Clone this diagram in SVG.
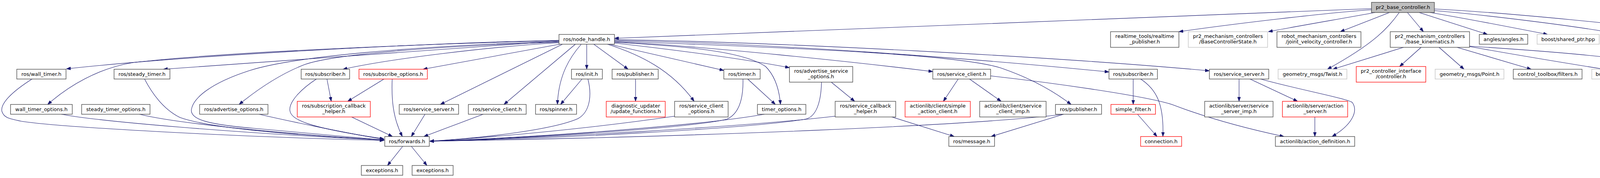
<svg xmlns="http://www.w3.org/2000/svg" width="4510" height="455" viewBox="0 0 4510 455">
<style>
.n rect{fill:#fff;stroke:#404040;stroke-width:1.3}
.r rect{fill:#fff;stroke:#ff0000;stroke-width:1.3}
.g rect{fill:#fff;stroke:#bfbfbf;stroke-width:1.3}
.t rect{fill:#bfbfbf;stroke:#404040;stroke-width:1.3}
text{font-family:"DejaVu Sans","Liberation Sans",sans-serif;font-size:13px;text-anchor:middle;fill:#000}
.e path{fill:none;stroke:#191970;stroke-width:1.1;marker-end:url(#a)}
</style>
<defs>
<marker id="a" markerUnits="userSpaceOnUse" markerWidth="11" markerHeight="8" refX="11" refY="4" orient="auto" viewBox="0 0 11 8">
<path d="M0,0 L11,4 L0,8 z" fill="#191970" stroke="#191970" stroke-width="0.8"/>
</marker>
</defs>
<rect width="4510" height="455" fill="#fff"/>
<g id="edges" class="e">
<path d="M3511,22 L1573,98"/>
<path d="M3511,25 C3400,32 3150,62 3018,81"/>
<path d="M3520,32 C3450,45 3320,67 3247,81"/>
<path d="M3557,32 L3431,81"/>
<path d="M3582,32 C3555,70 3520,110 3398,177"/>
<path d="M3603,32 L3644,81"/>
<path d="M3633,32 L3808,88"/>
<path d="M3661,32 C3740,45 3880,72 3962,88"/>
<path d="M3672,27 C3800,38 4050,68 4148,88"/>
<path d="M3672,23 C3850,32 4200,65 4340,88"/>
<path d="M3593,121 L3412,177"/>
<path d="M3638,121 L3583,170"/>
<path d="M3684,121 L3748,177"/>
<path d="M3730,121 L3920,177"/>
<path d="M3762,119 C3880,140 4000,160 4107,177"/>
<path d="M3762,118 C3950,130 4150,145 4294,172"/>
<path d="M1431,103 C1100,110 500,140 170,176"/>
<path d="M1431,104 C1050,113 550,135 340,160 C250,175 175,220 122,267"/>
<path d="M1431,105 L418,177"/>
<path d="M1431,106 C1050,118 750,145 640,180 C540,212 495,250 490,280 C487,305 530,318 650,328 C760,338 900,350 984,358"/>
<path d="M1431,108 C1100,118 850,140 780,165 C720,188 660,228 612,267"/>
<path d="M1431,109 C1250,120 1000,150 878,177"/>
<path d="M1433,113 L1083,177"/>
<path d="M1440,113 L1127,267"/>
<path d="M1473,113 L1290,267"/>
<path d="M1488,113 C1460,145 1430,190 1427,267"/>
<path d="M1502,113 L1502,177"/>
<path d="M1520,113 L1608,177"/>
<path d="M1573,101 C2000,108 2700,145 3096,181"/>
<path d="M1573,103 C2000,112 2500,150 2839,184"/>
<path d="M1573,105 C2100,125 2450,140 2560,173 C2640,200 2700,235 2742,267"/>
<path d="M1573,107 C1800,117 2200,160 2388,183"/>
<path d="M1573,108 C1750,118 1900,130 1960,170 C1985,195 1995,230 1998,267"/>
<path d="M1573,110 C1750,130 1900,150 2021,173"/>
<path d="M1560,113 L1853,180"/>
<path d="M1555,113 C1640,140 1720,180 1777,259"/>
<path d="M82,202 C30,235 0,265 5,285 C10,300 20,303 55,310 C150,325 600,350 983,359"/>
<path d="M157,292 C250,310 600,340 983,358"/>
<path d="M370,202 C390,240 420,280 460,300 C540,330 800,348 983,358"/>
<path d="M357,292 C450,315 700,340 983,358"/>
<path d="M663,292 C750,312 900,343 983,356"/>
<path d="M810,202 C770,228 740,260 742,282 C745,305 780,325 983,355"/>
<path d="M837,202 L848,259"/>
<path d="M983,202 L890,259"/>
<path d="M1004,202 C1002,250 1005,300 1030,349"/>
<path d="M900,299 L1005,349"/>
<path d="M1088,292 L1053,349"/>
<path d="M1237,292 L1085,349"/>
<path d="M1031,374 L992,423"/>
<path d="M1053,374 L1093,423"/>
<path d="M1505,202 C1515,240 1512,285 1480,303 C1420,330 1250,352 1100,361"/>
<path d="M1727,297 C1500,330 1250,352 1100,361"/>
<path d="M1902,202 C1903,245 1895,290 1860,305 C1750,330 1300,355 1100,361"/>
<path d="M1957,292 C1800,320 1400,350 1100,361"/>
<path d="M2103,210 C2102,260 2090,300 2060,305 C1900,330 1400,355 1100,361"/>
<path d="M2138,297 C1900,325 1400,352 1100,361"/>
<path d="M2723,292 C2500,320 1800,350 1100,361"/>
<path d="M2128,210 L2188,259"/>
<path d="M2283,299 L2443,349"/>
<path d="M2723,292 L2537,349"/>
<path d="M1627,202 L1627,259"/>
<path d="M1490,202 L1435,267"/>
<path d="M1914,202 L1985,267"/>
<path d="M2453,202 L2415,259"/>
<path d="M2482,202 L2563,259"/>
<path d="M2536,194 C2700,212 2930,245 3000,267 C3060,290 3150,320 3287,349"/>
<path d="M2901,202 L2901,267"/>
<path d="M2920,202 C2960,228 2980,265 2977,349"/>
<path d="M2912,292 L2962,349"/>
<path d="M3172,202 L3172,259"/>
<path d="M3200,202 L3322,259"/>
<path d="M3227,202 C3320,228 3450,252 3462,262 C3478,285 3460,320 3410,349"/>
<path d="M3366,299 L3366,349"/>
</g>
<g id="n_top" class="t"><rect x="3511" y="6" width="161" height="26"/><text x="3591.5" y="23">pr2_base_controller.h</text></g>
<g id="n_nh" class="n"><rect x="1431" y="88" width="142" height="25"/><text x="1502" y="105">ros/node_handle.h</text></g>
<g id="n_rtp" class="n"><rect x="2843" y="81" width="175" height="40"/><text x="2930.5" y="97">realtime_tools/realtime</text><text x="2930.5" y="111">_publisher.h</text></g>
<g id="n_bcs" class="g"><rect x="3042" y="81" width="203" height="40"/><text x="3143.5" y="97">pr2_mechanism_controllers</text><text x="3143.5" y="111">/BaseControllerState.h</text></g>
<g id="n_jvc" class="n"><rect x="3269" y="81" width="215" height="40"/><text x="3376.5" y="97">robot_mechanism_controllers</text><text x="3376.5" y="111">/joint_velocity_controller.h</text></g>
<g id="n_bk" class="n"><rect x="3559" y="81" width="203" height="40"/><text x="3660.5" y="97">pr2_mechanism_controllers</text><text x="3660.5" y="111">/base_kinematics.h</text></g>
<g id="n_ang" class="n"><rect x="3787" y="88" width="124" height="25"/><text x="3849" y="105">angles/angles.h</text></g>
<g id="n_sp" class="g"><rect x="3935" y="88" width="159" height="25"/><text x="4014.5" y="105">boost/shared_ptr.hpp</text></g>
<g id="n_scp" class="g"><rect x="4118" y="88" width="161" height="25"/><text x="4198.5" y="105">boost/scoped_ptr.hpp</text></g>
<g id="n_tf" class="g"><rect x="4302" y="88" width="203" height="25"/><text x="4403.5" y="105">filters/transfer_function.hpp</text></g>
<g id="n_wt" class="n"><rect x="43" y="177" width="126" height="25"/><text x="106" y="194">ros/wall_timer.h</text></g>
<g id="n_st" class="n"><rect x="292" y="177" width="143" height="25"/><text x="363.5" y="194">ros/steady_timer.h</text></g>
<g id="n_sub1" class="n"><rect x="771" y="177" width="124" height="25"/><text x="833" y="194">ros/subscriber.h</text></g>
<g id="n_so" class="r"><rect x="919" y="177" width="175" height="25"/><text x="1006.5" y="194">ros/subscribe_options.h</text></g>
<g id="n_init" class="n"><rect x="1463" y="177" width="79" height="25"/><text x="1502.5" y="194">ros/init.h</text></g>
<g id="n_pub1" class="n"><rect x="1567" y="177" width="118" height="25"/><text x="1626" y="194">ros/publisher.h</text></g>
<g id="n_timer" class="n"><rect x="1853" y="177" width="93" height="25"/><text x="1899.5" y="194">ros/timer.h</text></g>
<g id="n_aso" class="n"><rect x="2021" y="170" width="162" height="40"/><text x="2102" y="186">ros/advertise_service</text><text x="2102" y="200">_options.h</text></g>
<g id="n_sc2" class="n"><rect x="2388" y="177" width="148" height="25"/><text x="2462" y="194">ros/service_client.h</text></g>
<g id="n_sub2" class="n"><rect x="2839" y="177" width="124" height="25"/><text x="2901" y="194">ros/subscriber.h</text></g>
<g id="n_ss2" class="n"><rect x="3096" y="177" width="152" height="25"/><text x="3172" y="194">ros/service_server.h</text></g>
<g id="n_twist" class="g"><rect x="3272" y="177" width="176" height="25"/><text x="3360" y="194">geometry_msgs/Twist.h</text></g>
<g id="n_ctrl" class="r"><rect x="3472" y="170" width="178" height="40"/><text x="3561" y="186">pr2_controller_interface</text><text x="3561" y="200">/controller.h</text></g>
<g id="n_point" class="g"><rect x="3674" y="177" width="176" height="25"/><text x="3762" y="194">geometry_msgs/Point.h</text></g>
<g id="n_filt" class="n"><rect x="3874" y="177" width="176" height="25"/><text x="3962" y="194">control_toolbox/filters.h</text></g>
<g id="n_cond" class="g"><rect x="4075" y="177" width="196" height="25"/><text x="4173" y="194">boost/thread/condition.hpp</text></g>
<g id="n_robot" class="r"><rect x="4294" y="170" width="176" height="40"/><text x="4382" y="186">pr2_mechanism_model</text><text x="4382" y="200">/robot.h</text></g>
<g id="n_wto" class="n"><rect x="27" y="267" width="158" height="25"/><text x="106" y="284">wall_timer_options.h</text></g>
<g id="n_sto" class="n"><rect x="209" y="267" width="175" height="25"/><text x="296.5" y="284">steady_timer_options.h</text></g>
<g id="n_ao" class="n"><rect x="511" y="267" width="175" height="25"/><text x="598.5" y="284">ros/advertise_options.h</text></g>
<g id="n_sch" class="r"><rect x="761" y="259" width="187" height="40"/><text x="854.5" y="275">ros/subscription_callback</text><text x="854.5" y="289">_helper.h</text></g>
<g id="n_ss1" class="n"><rect x="1022" y="267" width="152" height="25"/><text x="1098" y="284">ros/service_server.h</text></g>
<g id="n_sc1" class="n"><rect x="1199" y="267" width="148" height="25"/><text x="1273" y="284">ros/service_client.h</text></g>
<g id="n_spin" class="n"><rect x="1371" y="267" width="105" height="25"/><text x="1423.5" y="284">ros/spinner.h</text></g>
<g id="n_diag" class="r"><rect x="1552" y="259" width="151" height="40"/><text x="1627.5" y="275">diagnostic_updater</text><text x="1627.5" y="289">/update_functions.h</text></g>
<g id="n_sco" class="n"><rect x="1727" y="259" width="137" height="40"/><text x="1795.5" y="275">ros/service_client</text><text x="1795.5" y="289">_options.h</text></g>
<g id="n_to" class="n"><rect x="1939" y="267" width="124" height="25"/><text x="2001" y="284">timer_options.h</text></g>
<g id="n_sch2" class="n"><rect x="2138" y="259" width="155" height="40"/><text x="2215.5" y="275">ros/service_callback</text><text x="2215.5" y="289">_helper.h</text></g>
<g id="n_sac" class="r"><rect x="2317" y="259" width="167" height="40"/><text x="2400.5" y="275">actionlib/client/simple</text><text x="2400.5" y="289">_action_client.h</text></g>
<g id="n_sci" class="n"><rect x="2508" y="259" width="170" height="40"/><text x="2593" y="275">actionlib/client/service</text><text x="2593" y="289">_client_imp.h</text></g>
<g id="n_pub2" class="n"><rect x="2702" y="267" width="118" height="25"/><text x="2761" y="284">ros/publisher.h</text></g>
<g id="n_sf" class="r"><rect x="2844" y="267" width="114" height="25"/><text x="2901" y="284">simple_filter.h</text></g>
<g id="n_ssi" class="n"><rect x="3084" y="259" width="175" height="40"/><text x="3171.5" y="275">actionlib/server/service</text><text x="3171.5" y="289">_server_imp.h</text></g>
<g id="n_as" class="r"><rect x="3283" y="259" width="167" height="40"/><text x="3366.5" y="275">actionlib/server/action</text><text x="3366.5" y="289">_server.h</text></g>
<g id="n_fwd" class="n"><rect x="985" y="349" width="114" height="25"/><text x="1042" y="366">ros/forwards.h</text></g>
<g id="n_msg" class="n"><rect x="2429" y="349" width="117" height="25"/><text x="2487.5" y="366">ros/message.h</text></g>
<g id="n_conn" class="r"><rect x="2920" y="349" width="105" height="25"/><text x="2972.5" y="366">connection.h</text></g>
<g id="n_ad" class="n"><rect x="3265" y="349" width="203" height="25"/><text x="3366.5" y="366">actionlib/action_definition.h</text></g>
<g id="n_ex1" class="n"><rect x="925" y="423" width="106" height="25"/><text x="978" y="440">exceptions.h</text></g>
<g id="n_ex2" class="n"><rect x="1055" y="423" width="105" height="25"/><text x="1107.5" y="440">exceptions.h</text></g>
</svg>
